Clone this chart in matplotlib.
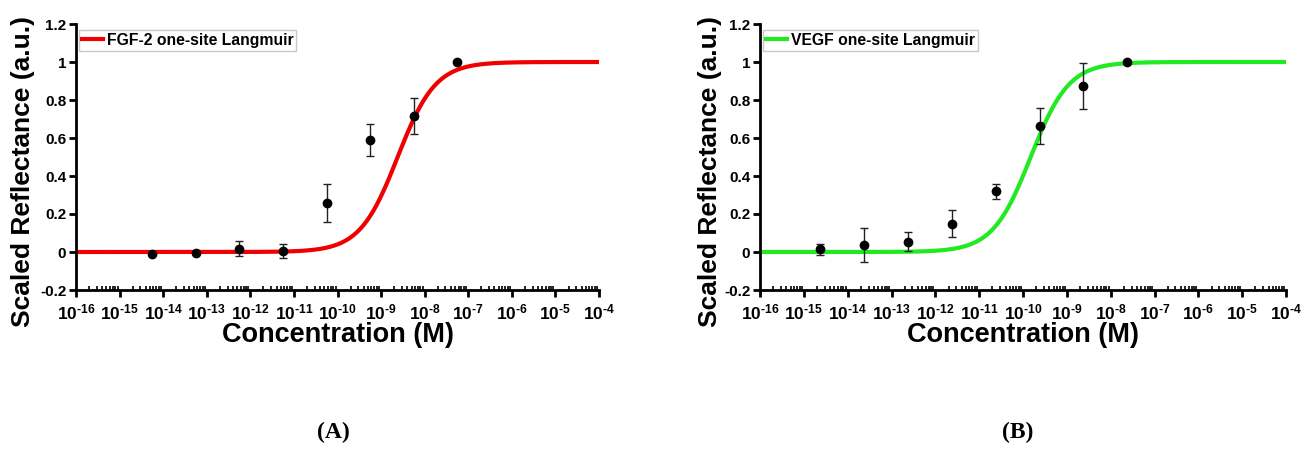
import numpy as np
import matplotlib
matplotlib.use("Agg")
import matplotlib.pyplot as plt
from matplotlib.ticker import LogLocator, FixedLocator, NullFormatter

plt.rcParams['font.family'] = ['Liberation Sans', 'DejaVu Sans']
plt.rcParams['font.weight'] = 'bold'
plt.rcParams['mathtext.fontset'] = 'custom'
plt.rcParams['mathtext.rm'] = 'Liberation Sans:bold'
plt.rcParams['mathtext.it'] = 'Liberation Sans:bold'
plt.rcParams['mathtext.bf'] = 'Liberation Sans:bold'

# panel A - FGF-2
fgf_conc = [5.6e-15, 5.6e-14, 5.6e-13, 5.6e-12, 5.6e-11, 5.6e-10, 5.6e-9, 5.6e-8]
fgf_resp = [-0.01, -0.004, 0.018, 0.005, 0.257, 0.59, 0.715, 1.0]
fgf_err = [0.0, 0.0, 0.04, 0.035, 0.10, 0.085, 0.094, 0.0]
fgf_kd = 2.4e-9

# panel B - VEGF
vegf_conc = [2.4e-15, 2.4e-14, 2.4e-13, 2.4e-12, 2.4e-11, 2.4e-10, 2.4e-9, 2.4e-8]
vegf_resp = [0.014, 0.037, 0.055, 0.149, 0.32, 0.664, 0.873, 1.0]
vegf_err = [0.028, 0.09, 0.05, 0.072, 0.04, 0.094, 0.12, 0.0]
vegf_kd = 1.5e-10

decades = list(range(-16, -3))
yticks = [-0.2, 0, 0.2, 0.4, 0.6, 0.8, 1, 1.2]
ytick_labels = ['-0.2', '0', '0.2', '0.4', '0.6', '0.8', '1', '1.2']


def langmuir(c, kd):
    return c / (kd + c)


def panel(ax, conc, resp, err, kd, color, label, ylab_x):
    c = np.logspace(-16, -4, 600)
    ax.plot(c, langmuir(c, kd), color=color, lw=3, label=label, zorder=2)
    ax.errorbar(conc, resp, yerr=err, fmt='o', color='black', ms=6,
                ecolor='#222222', elinewidth=1, capsize=3, capthick=1, zorder=3)
    ax.set_xscale('log')
    ax.set_xlim(1e-16, 1e-4)
    ax.set_ylim(-0.2, 1.2)
    ax.xaxis.set_major_locator(FixedLocator([10.0 ** k for k in decades]))
    ax.set_xticklabels([r'$10^{\text{%d}}$' % k for k in decades])
    ax.xaxis.set_minor_locator(LogLocator(base=10, subs=np.arange(2, 10), numticks=100))
    ax.xaxis.set_minor_formatter(NullFormatter())
    ax.set_yticks(yticks)
    ax.set_yticklabels(ytick_labels)
    for s in ['top', 'right']:
        ax.spines[s].set_visible(False)
    for s in ['left', 'bottom']:
        ax.spines[s].set_linewidth(2)
    ax.tick_params(which='major', direction='out', length=5, width=2)
    ax.tick_params(axis='y', labelsize=11, pad=2)
    ax.tick_params(axis='x', labelsize=12.5, pad=4)
    ax.tick_params(which='minor', direction='in', length=3, width=1.2)
    ax.set_xlabel('Concentration (M)', fontsize=19.5, fontweight='bold', labelpad=0)
    ax.set_ylabel('Scaled Reflectance (a.u.)', fontsize=19, fontweight='bold')
    ax.yaxis.set_label_coords(ylab_x, 0.447)
    leg = ax.legend(loc='upper left', bbox_to_anchor=(0.0, 0.99), fontsize=11.3,
                    frameon=True, fancybox=False, handlelength=1.3,
                    handletextpad=0.25, borderpad=0.2, borderaxespad=0.2)
    leg.get_frame().set_edgecolor('#bbbbbb')
    leg.get_frame().set_linewidth(1)
    for t in leg.get_texts():
        t.set_fontweight('bold')


fig = plt.figure(figsize=(13.1, 4.49), dpi=100)
ax1 = fig.add_axes([76 / 1310, 1 - 290 / 449, 523 / 1310, 266 / 449])
ax2 = fig.add_axes([760 / 1310, 1 - 290 / 449, 526 / 1310, 266 / 449])

panel(ax1, fgf_conc, fgf_resp, fgf_err, fgf_kd, '#f00000', 'FGF-2 one-site Langmuir', -0.078)
panel(ax2, vegf_conc, vegf_resp, vegf_err, vegf_kd, '#22ea22', 'VEGF one-site Langmuir', -0.072)

fig.text(333 / 1310, 1 - 432 / 449, '(A)', family='Liberation Serif', fontweight='bold',
         fontsize=17, ha='center', va='center')
fig.text(1018 / 1310, 1 - 432 / 449, '(B)', family='Liberation Serif', fontweight='bold',
         fontsize=17, ha='center', va='center')

fig.savefig('out.png', dpi=100)
